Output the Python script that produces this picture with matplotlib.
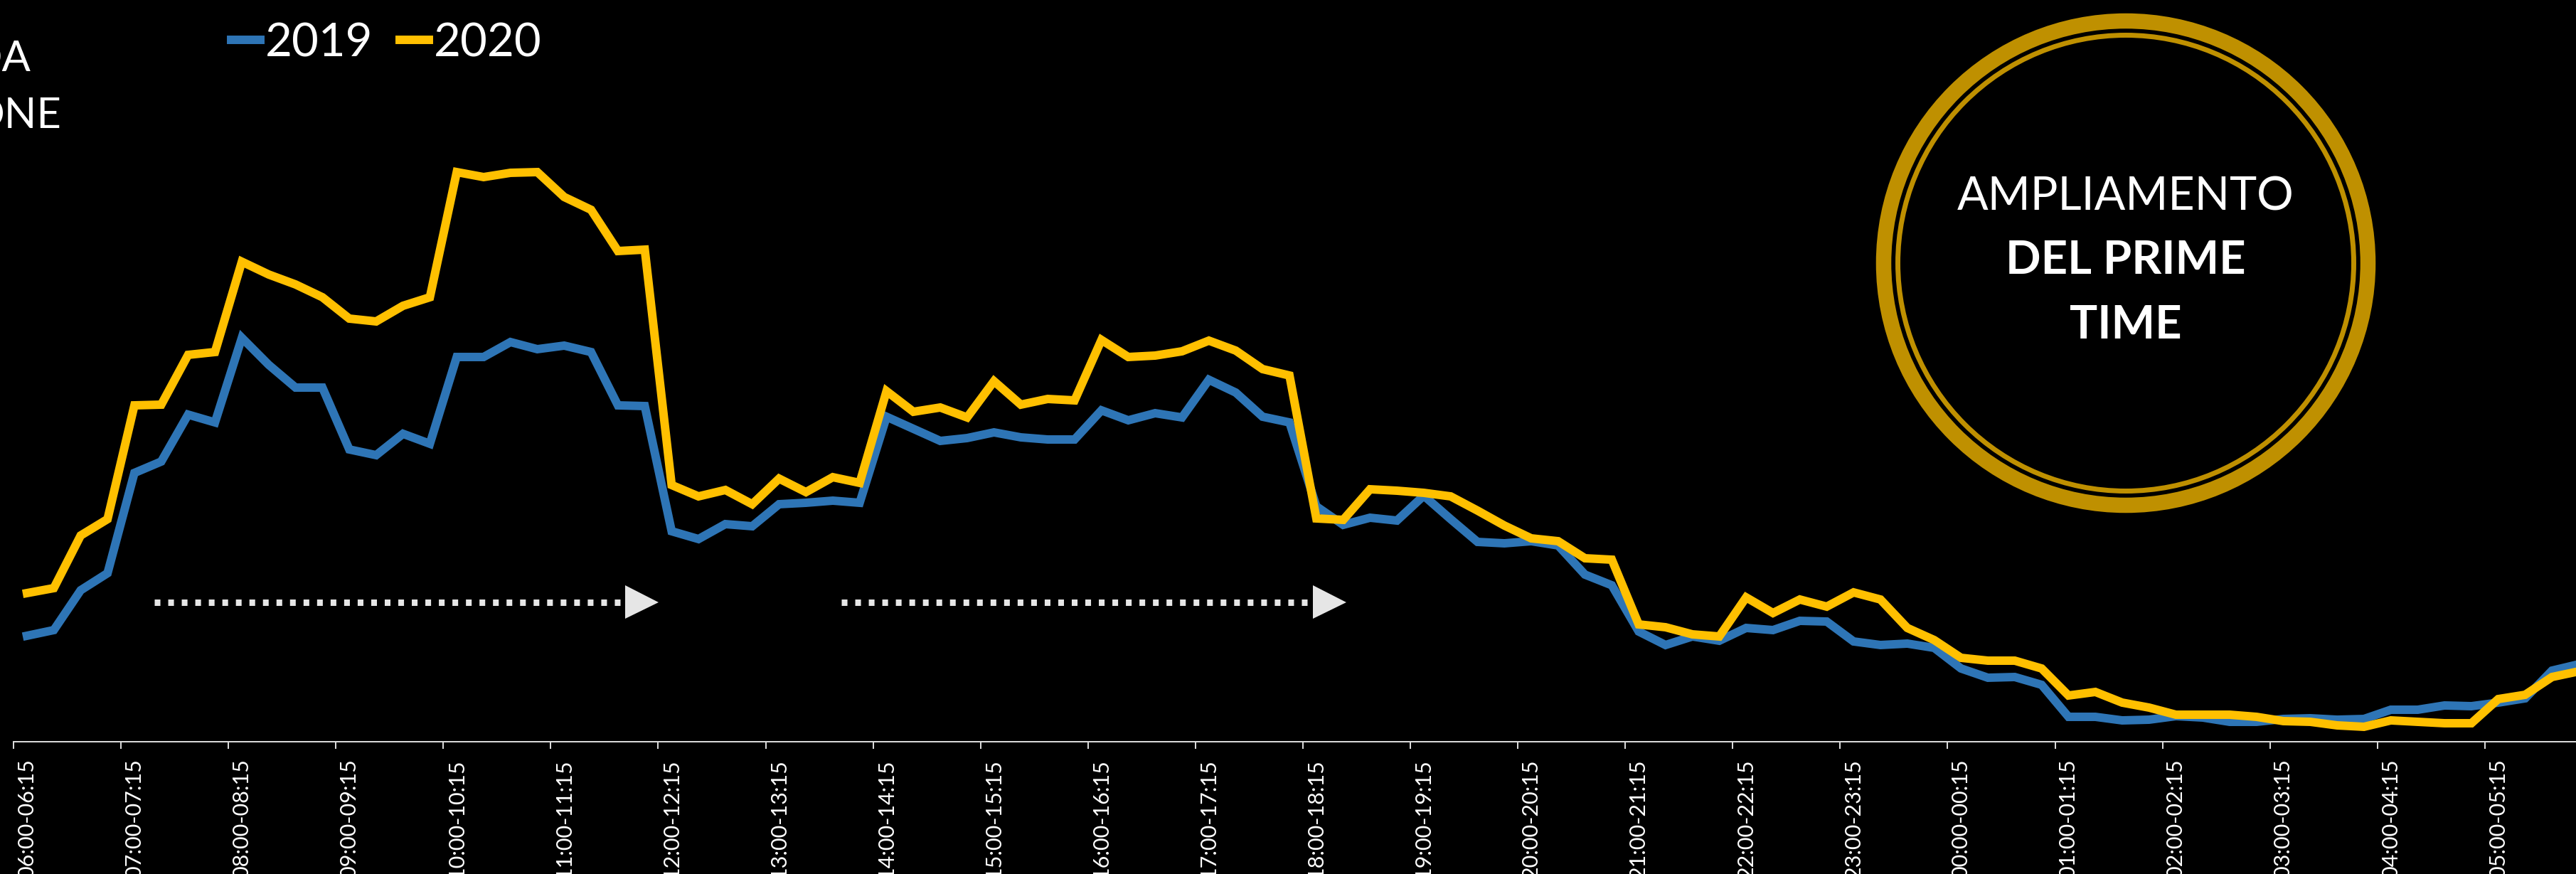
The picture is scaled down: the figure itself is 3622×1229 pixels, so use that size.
import matplotlib.pyplot as plt
from matplotlib.lines import Line2D
from matplotlib.patches import Circle, Polygon
import numpy as np

plt.rcParams['font.family'] = ['Lato', 'DejaVu Sans']
plt.rcParams['lines.scale_dashes'] = False

W, H, DPI = 3623, 1229, 100

# quarter-hour slots of the TV day, 06:00 -> 05:45
slots = []
for q in range(96):
    h0, m0 = (6 + q // 4) % 24, (q % 4) * 15
    h1, m1 = (6 + (q + 1) // 4) % 24, ((q + 1) % 4) * 15
    slots.append(f"{h0:02d}:{m0:02d}-{h1:02d}:{m1:02d}")

# average audience per slot
aud_2019 = [14.9, 15.7, 21.3, 23.7, 37.8, 39.4, 46.0, 44.9, 56.8, 53.0, 49.8, 49.8,
            41.1, 40.3, 43.3, 41.9, 54.1, 54.1, 56.2, 55.2, 55.7, 54.8, 47.3, 47.2,
            29.6, 28.5, 30.6, 30.3, 33.4, 33.6, 33.9, 33.6, 45.7, 44.0, 42.3, 42.7,
            43.5, 42.8, 42.5, 42.5, 46.6, 45.2, 46.2, 45.6, 50.9, 49.1, 45.7, 44.9,
            33.1, 30.5, 31.5, 31.1, 34.6, 31.3, 28.1, 27.9, 28.2, 27.6, 23.5, 22.0,
            15.5, 13.6, 14.8, 14.2, 16.0, 15.7, 17.0, 16.9, 14.1, 13.6, 13.8, 13.2,
            10.3, 9.0, 9.1, 8.0, 3.5, 3.5, 3.0, 3.1, 3.6, 3.4, 2.8, 2.8,
            3.2, 3.3, 3.1, 3.2, 4.5, 4.5, 5.1, 5.0, 5.5, 6.1, 10.0, 10.9]
aud_2020 = [20.9, 21.6, 29.0, 31.3, 47.3, 47.4, 54.4, 54.8, 67.5, 65.7, 64.3, 62.5,
            59.5, 59.1, 61.3, 62.5, 80.1, 79.4, 80.0, 80.1, 76.6, 74.8, 69.0, 69.2,
            36.1, 34.5, 35.4, 33.4, 37.0, 35.1, 37.2, 36.4, 49.3, 46.4, 47.0, 45.6,
            50.7, 47.4, 48.2, 48.0, 56.5, 54.1, 54.3, 54.9, 56.4, 55.0, 52.4, 51.5,
            31.4, 31.2, 35.5, 35.3, 35.0, 34.5, 32.5, 30.4, 28.6, 28.2, 25.8, 25.6,
            16.5, 16.1, 15.1, 14.8, 20.3, 18.1, 20.0, 19.0, 21.0, 20.0, 16.0, 14.3,
            11.8, 11.4, 11.4, 10.3, 6.5, 7.0, 5.5, 4.8, 3.8, 3.8, 3.8, 3.5,
            2.9, 2.8, 2.3, 2.1, 3.0, 2.8, 2.6, 2.6, 6.0, 6.6, 9.1, 9.9]

BLUE, GOLD, RING = '#2E75B6', '#FFC000', '#BF9000'
GREY = '#D9D9D9'


def fx(x):
    return x / W


def fy(y):
    return 1 - y / H


fig = plt.figure(figsize=(W / DPI, H / DPI), dpi=DPI, facecolor='black')
slot_w = 37.77
ax = fig.add_axes([fx(19), fy(1043), len(slots) * slot_w / W, 1043 / H])
ax.set_facecolor('black')

x = np.arange(len(slots))
l19, = ax.plot(x, aud_2019, color=BLUE, lw=8.6, solid_joinstyle='miter')
l20, = ax.plot(x, aud_2020, color=GOLD, lw=8.6, solid_joinstyle='miter')
ax.set_xlim(-0.5, len(slots) - 0.5)
ax.set_ylim(0, 104.3)

# tick marks between slots, labels on the first quarter of each hour
ax.set_xticks(np.arange(-0.5, len(slots), 4))
ax.set_xticklabels([])
ax.set_xticks(x[::4], minor=True)
ax.set_xticklabels(slots[::4], minor=True, rotation=90, fontsize=22, color='white')
ax.tick_params(axis='x', which='major', length=7.2, width=1.44, color=GREY, direction='out')
ax.tick_params(axis='x', which='minor', length=0, pad=17.3)
ax.set_yticks([])
for s in ('left', 'right', 'top'):
    ax.spines[s].set_visible(False)
ax.spines['bottom'].set_color(GREY)
ax.spines['bottom'].set_linewidth(1.44)

# dotted arrows under the morning and afternoon blocks
for x0, x1, tip in [(217, 875, 926), (1183, 1842, 1893)]:
    fig.add_artist(Line2D([fx(x0), fx(x1)], [fy(847), fy(847)], transform=fig.transFigure,
                          color='#E6E6E6', lw=6.5, dashes=(5.8, 7.9), dash_capstyle='butt'))
    fig.add_artist(Polygon([(fx(x1 + 4), fy(823)), (fx(x1 + 4), fy(870)), (fx(tip), fy(847))],
                           closed=True, transform=fig.transFigure, color='#E6E6E6', lw=0))

# gold badge
cx, cy = 29.89, (H - 370) / DPI
fig.add_artist(Circle((cx, cy), 3.405, transform=fig.dpi_scale_trans, fill=False,
                      edgecolor=RING, lw=15.5))
fig.add_artist(Circle((cx, cy), 3.205, transform=fig.dpi_scale_trans, fill=False,
                      edgecolor=RING, lw=5))
fig.text(fx(2989), fy(296), 'AMPLIAMENTO', ha='center', va='baseline', color='white', fontsize=46.5)
fig.text(fx(2989), fy(385), 'DEL PRIME', ha='center', va='baseline', color='white',
         fontsize=47, fontweight='bold')
fig.text(fx(2989), fy(476), 'TIME', ha='center', va='baseline', color='white',
         fontsize=47, fontweight='bold')

# title fragments at the left border
fig.text(fx(44), fy(100), 'DA', ha='right', va='baseline', color='white', fontsize=43)
fig.text(fx(86), fy(180), 'ONE', ha='right', va='baseline', color='white', fontsize=43)

fig.legend([l19, l20], ['2019', '2020'], loc='upper left', bbox_to_anchor=(fx(325), fy(31)),
           ncol=2, frameon=False, fontsize=47, handlelength=0.625, handletextpad=0.11,
           columnspacing=0.58, borderpad=0, borderaxespad=0, labelcolor='white')

fig.savefig('out.png', dpi=DPI, facecolor='black')
